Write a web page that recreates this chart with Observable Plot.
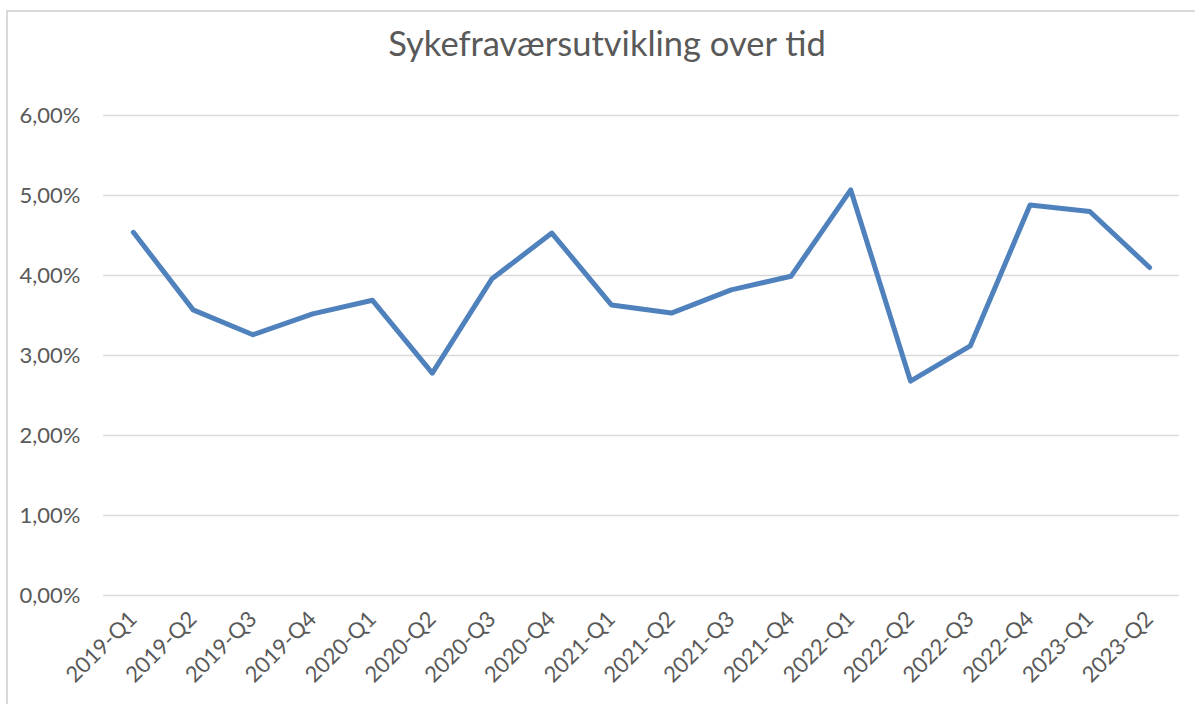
<!DOCTYPE html>
<html>
<head>
<meta charset="utf-8">
<script src="https://cdn.jsdelivr.net/npm/d3@7"></script>
<script src="https://cdn.jsdelivr.net/npm/@observablehq/plot@0.6"></script>
<style>
  html, body { margin: 0; padding: 0; background: #fff; }
  #wrap { position: relative; width: 1195px; height: 704px; overflow: hidden; font-family: "Open Sans", Lato, sans-serif; }
  #frame { position: absolute; left: 6px; top: 10px; width: 1200px; height: 720px; border: 2px solid #d9d9d9; box-sizing: border-box; }
  #title { position: absolute; left: 357px; width: 500px; top: 22px; text-align: center; font-size: 34.5px; color: #595959; font-family: Lato, "Open Sans", sans-serif; white-space: nowrap; }
  #chart { position: absolute; left: 0; top: 0; }
</style>
</head>
<body>
<div id="wrap">
  <div id="frame"></div>
  <div id="title">Sykefraværsutvikling over tid</div>
  <div id="chart"></div>
</div>
<script>
const quarters = ["2019-Q1","2019-Q2","2019-Q3","2019-Q4","2020-Q1","2020-Q2","2020-Q3","2020-Q4","2021-Q1","2021-Q2","2021-Q3","2021-Q4","2022-Q1","2022-Q2","2022-Q3","2022-Q4","2023-Q1","2023-Q2"];
const sickLeave = [4.54, 3.57, 3.26, 3.52, 3.69, 2.78, 3.96, 4.53, 3.63, 3.53, 3.82, 3.99, 5.07, 2.68, 3.12, 4.88, 4.80, 4.10];
const yTicks = [0, 1, 2, 3, 4, 5, 6];

const data = quarters.map((q, i) => ({q, v: sickLeave[i]}));
const fmt = d => d.toFixed(2).replace(".", ",") + "%";

const plot = Plot.plot({
  width: 1195,
  height: 704,
  marginTop: 115,
  marginBottom: 109,
  marginLeft: 103,
  marginRight: 16,
  style: {background: "transparent", fontFamily: "Lato, 'Open Sans', sans-serif", fontSize: "22px", color: "#595959"},
  x: {type: "point", domain: quarters, padding: 0.5, round: false, label: null},
  y: {domain: [0, 6], label: null},
  marks: [
    Plot.ruleY(yTicks, {stroke: "#d9d9d9", strokeWidth: 1.5}),
    Plot.axisY({ticks: yTicks, tickFormat: fmt, tickSize: 0, tickPadding: 23, label: null, fill: "#595959", fontSize: 22}),
    Plot.axisX({tickSize: 0, tickPadding: 20, tickRotate: -45, label: null, fill: "#595959", fontSize: 22}),
    Plot.line(data, {x: "q", y: "v", stroke: "#4f81bd", strokeWidth: 5, strokeLinejoin: "round", strokeLinecap: "round"})
  ]
});
document.getElementById("chart").appendChild(plot);
</script>
</body>
</html>
